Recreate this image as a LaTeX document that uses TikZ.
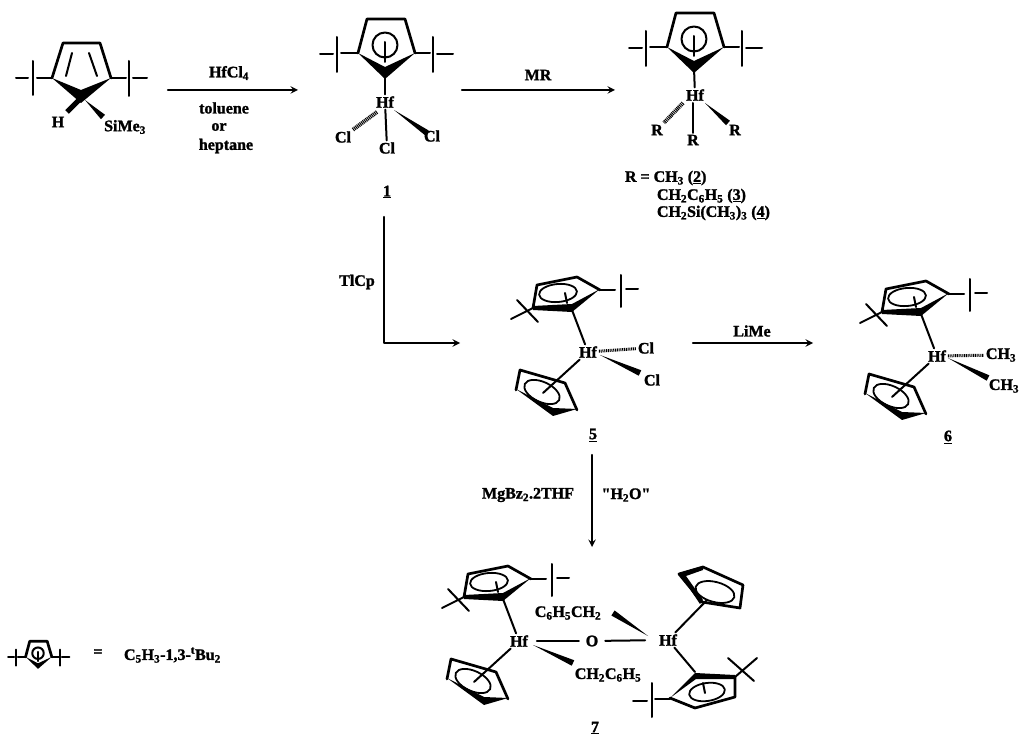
\documentclass[tikz,border=0pt]{standalone}
\usepackage{fontspec}
\setmainfont[BoldFeatures={FakeBold=1.6}]{Liberation Serif}
\newfontfamily\qfont[BoldFeatures={FakeBold=1.6}]{Liberation Serif}
\usetikzlibrary{calc}
\newcommand{\low}[1]{\textsubscript{#1}}
\newcommand{\wdg}[3][3]{\fill (#2) -- ($(#3)!#1pt!90:(#2)$) -- ($(#3)!#1pt!-90:(#2)$) -- cycle;}
\tikzset{
  chem/.style={inner sep=0pt,outer sep=2pt,font=\bfseries\fontsize{16}{18}\selectfont},
  bond/.style={line width=2pt},
  ring/.style={line width=2.7pt},
  hash/.style={line width=4pt,line cap=butt,dash pattern=on 1pt off 0.8pt},
  rxn/.style={->,line width=2.2pt}
}
\begin{document}
\begin{tikzpicture}[x=1pt,y=-1pt,line join=round,line cap=round,>=stealth]
\useasboundingbox (0,0) rectangle (1021,735);
\draw[ring] (52,78) -- (63,43) -- (100,43) -- (111,78);
\draw[bond] (72,53) -- (66,76);
\draw[bond] (89,53) -- (97,76);
\fill (52,78) -- (81,90) -- (111,78) -- (81,103) -- cycle;
\draw[bond] (16,78) -- (28,78) (33,61) -- (33,95) (37,78) -- (52,78);
\draw[bond] (111,78) -- (126,78) (129,61) -- (129,96) (133,78) -- (147,78);
\node[chem] (ha) at (58,122) {H};
\node[chem] (sia) at (125,127) {SiMe\low{3}};
\coordinate (cza) at (81,98);
\draw[line width=5pt,line cap=butt] (cza) -- (67,112);
\wdg{85,100}{103,117}
\foreach \dx/\dy/\sc in {0/0/1,309/-6/1,-139.1/632.5/.46}{
\begin{scope}[shift={(\dx,\dy)},scale=\sc]
\draw[ring] (358,53) -- (367,19) -- (405,19) -- (415,53);
\fill (358,53) -- (385,67) -- (415,53) -- (385,79) -- cycle;
\draw[bond] (385,45) circle(12.5);
\draw[bond] (385,42) -- (385,62);
\draw[bond] (320,54) -- (333,54) (337,37) -- (337,72) (341,53) -- (358,53);
\draw[bond] (415,53) -- (430,53) (433,37) -- (433,72) (437,54) -- (453,54);
\end{scope}
}
\foreach \n/\dx/\dy in {e/0/0,f/349/4,g/-69/289}{
\begin{scope}[shift={(\dx,\dy)}]
\draw[ring] (533,308) -- (537,285) -- (577,277) -- (600,290);
\fill (600,289) -- (572,304) -- (533,306) -- (533,310) -- (572,312) -- cycle;
\draw[line width=1.8pt,rotate around={5:(558,293)}] (558,293) ellipse (19 and 9);
\draw[bond] (565,293) -- (567,303);
\draw[bond] (600,290) -- (615,290) (621,275) -- (621,307) (626,289) -- (638,289);
\draw[bond] (517,300) -- (538,322) (511,319) -- (533,308);
\draw[ring] (516,390) -- (520,370) -- (565,383) -- (577,410);
\fill (516,389) -- (553,408) -- (577,409) -- (553,416) -- cycle;
\draw[line width=1.8pt,rotate around={-25:(542,392)}] (542,392) ellipse (19 and 10);
\node[chem] (hf\n) at (588,352) {Hf};
\coordinate (up\n) at (572,310);
\coordinate (lw\n) at (543,393);
\draw[bond] (hf\n) -- (up\n);
\draw[bond] (hf\n) -- (lw\n);
\end{scope}
}
\node[chem] (hfa) at (385,102) {Hf};
\coordinate (bta) at (385,75);
\draw[bond] (bta) -- (hfa);
\node[chem] (cla) at (343,137) {Cl};
\node[chem] (clb) at (387,148) {Cl};
\node[chem] (clc) at (432,136) {Cl};
\draw[hash] (377,112) -- (cla);
\draw[bond] (hfa) -- (clb);
\wdg{394,110}{427,133}
\node[chem] (lba) at (387,192) {\underline{1}};
\node[chem] (hfb) at (695,95) {Hf};
\coordinate (btb) at (694,68);
\draw[bond] (btb) -- (hfb);
\node[chem] (ra) at (657,130) {R};
\node[chem] (rb) at (693,140) {R};
\node[chem] (rc) at (735,130) {R};
\draw[hash] (683,103) -- (ra);
\draw[bond] (693,103) -- (rb);
\wdg{705,103}{728,123}
\node[chem,anchor=west] (rdef) at (623,178) {R = CH\low{3} (\underline{2})};
\node[chem,anchor=west] (rbz) at (655,196) {CH\low{2}C\low{6}H\low{5} (\underline{3})};
\node[chem,anchor=west] (rsi) at (655,213) {CH\low{2}Si(CH\low{3})\low{3} (\underline{4})};
\node[chem] (cld) at (646,348) {Cl};
\node[chem] (cle) at (652,380) {Cl};
\draw[hash,line width=3pt] (hfe) -- (cld);
\wdg{600,355}{640,373}
\node[chem] (lbe) at (593,435) {\underline{5}};
\node[chem] (mea) at (1001,355) {CH\low{3}};
\node[chem] (meb) at (1004,386) {CH\low{3}};
\draw[hash,line width=3pt] (hff) -- (mea);
\wdg{948,358}{988,378}
\node[chem] (lbf) at (948,437) {\underline{6}};
\node[chem] (hfh) at (668,640) {Hf};
\node[chem] (oxo) at (592,641) {O};
\draw[bond,shorten <=7pt,shorten >=5pt] (hfg) -- (oxo);
\draw[bond,shorten <=5pt,shorten >=12pt] (oxo) -- (hfh);
\node[chem] (bza) at (568,613) {C\low{6}H\low{5}CH\low{2}};
\node[chem] (bzb) at (608,675) {CH\low{2}C\low{6}H\low{5}};
\wdg{648,636}{613,613}
\wdg{533,645}{573,663}
\draw[ring] (679,574) -- (703,567) -- (743,585) -- (740,608) -- (702,602) -- cycle;
\fill (679,573) -- (703,566) -- (703,570) -- (686,576) -- (703,600) -- (700,604) -- cycle;
\draw[line width=1.8pt,rotate around={-15:(715,592)}] (715,592) ellipse (20 and 10);
\coordinate (hua) at (707,600);
\draw[bond] (hfh) -- (hua);
\draw[ring] (695,708) -- (735,697) -- (735,677) -- (695,675);
\fill (670,698) -- (695,673) -- (735,675) -- (735,679) -- (696,679) -- cycle;
\draw[ring] (670,698) -- (695,708);
\draw[line width=1.8pt,rotate around={8:(707,692)}] (707,692) ellipse (18 and 9);
\coordinate (hub) at (695,672);
\draw[bond] (hfh) -- (hub);
\draw[bond] (703,683) -- (705,693);
\draw[bond] (728,658) -- (754,681) (735,677) -- (757,658);
\draw[bond] (670,699) -- (655,699) (652,683) -- (652,717) (647,701) -- (633,701);
\node[chem] (lbg) at (595,728) {\underline{7}};
\node[chem] (eqs) at (98,653) {=};
\node[chem,anchor=west] (cpd) at (122,655) {C\low{5}H\low{3}-1,3-\textsuperscript{t}Bu\low{2}};
\coordinate (s1) at (168,90);
\coordinate (e1) at (298,90);
\draw[rxn] (s1) -- (e1);
\node[chem] (hcl) at (229,73) {HfCl\low{4}};
\node[chem] (tol) at (224,108) {toluene};
\node[chem] (orr) at (219,127) {or};
\node[chem] (hep) at (226,146) {heptane};
\coordinate (s2) at (462,90);
\coordinate (e2) at (615,90);
\draw[rxn] (s2) -- (e2);
\node[chem] (mrr) at (538,75) {MR};
\coordinate (s3) at (384,217);
\coordinate (e3) at (460,343);
\draw[rxn] (s3) |- (e3);
\node[chem] (tlc) at (357,282) {TlCp};
\coordinate (s4) at (693,343);
\coordinate (e4) at (813,343);
\draw[rxn] (s4) -- (e4);
\node[chem] (lim) at (752,331) {LiMe};
\coordinate (s5) at (592,455);
\coordinate (e5) at (592,547);
\draw[rxn] (s5) -- (e5);
\node[chem] (mgb) at (528,495) {MgBz\low{2}.2THF};
\node[chem] (hho) at (626,495) {\qfont"H\low{2}O"};
\end{tikzpicture}
\end{document}
